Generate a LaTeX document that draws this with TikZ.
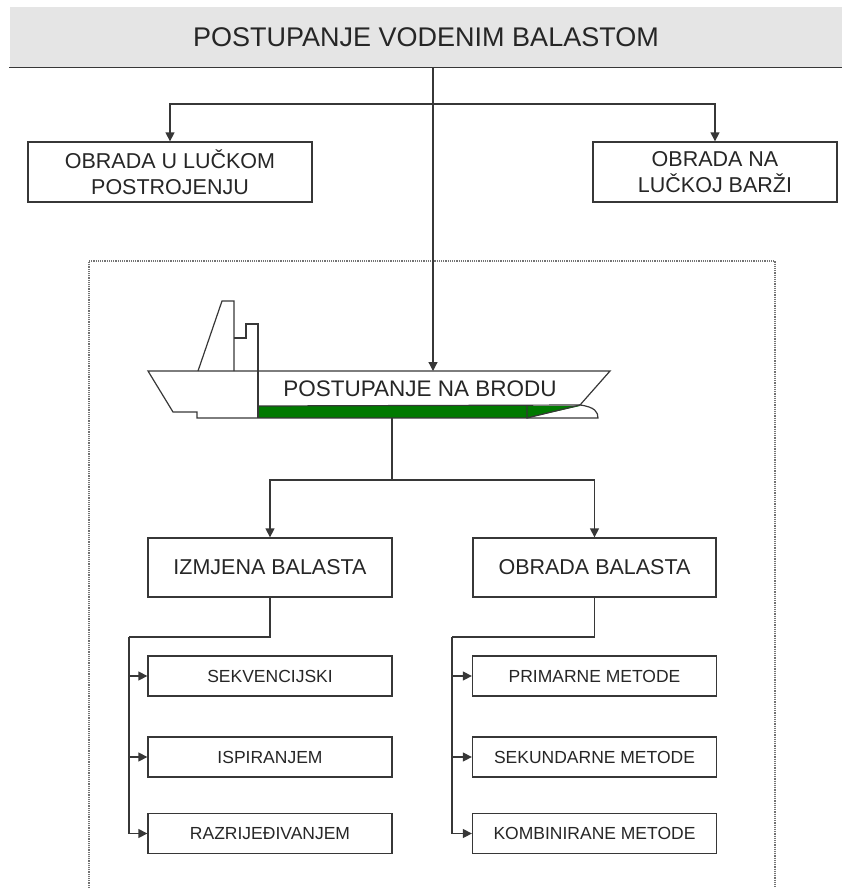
\documentclass[tikz,border=0pt]{standalone}
\usepackage{fontspec}
\setmainfont{Liberation Sans}
\usetikzlibrary{arrows.meta}
\definecolor{hull}{RGB}{0,122,0}
\definecolor{linegray}{RGB}{55,55,55}

\begin{document}
\begin{tikzpicture}[x=1pt,y=-1pt,line width=1.3pt,
    every node/.style={draw=linegray,line width=1.3pt,shape=rectangle,align=center,inner sep=0pt,text=black!85,font=\fontsize{21.5}{26}\selectfont},
    metoda/.style={minimum width=244pt,minimum height=40pt,font=\fontsize{17.5}{20}\selectfont},
    tok/.style={draw=linegray,-{Triangle[length=9pt,width=9pt]}}]
    \useasboundingbox (0,0) rectangle (842,888);

    % frame round the ship part
    \draw[black!55,line width=1.5pt,dash pattern=on 1.2pt off 1pt] (89,888) |- (775,261) -- (775,888);

    \node (head)[draw=none,fill=black!10,minimum width=832pt,minimum height=60pt,font=\fontsize{27}{30}\selectfont] at (426,37) {POSTUPANJE VODENIM BALASTOM};
    \draw[linegray,line width=1.6pt] (head.south west) -- (head.south east);

    \node (luka)[minimum width=284pt,minimum height=60pt] at (170,172) {OBRADA U LUČKOM \\ POSTROJENJU};
    \node (barza)[minimum width=244pt,minimum height=60pt] at (715,172) {OBRADA NA \\ LUČKOJ BARŽI};

    % ship
    \fill[hull] (258,406) rectangle (527,418);
    \fill[hull] (527,406) -- (580,406) -- (527,418) -- cycle;
    \draw[linegray,line width=1.2pt] (148,371) -- (610,371) -- (580,405) .. controls (595,407) and (598,412) .. (598,418) -- (197,418) -- (197,412) -- (173,412) -- cycle;
    \draw[linegray,line width=1.2pt] (198,371) -- (222,301) -- (234,301) -- (234,371);
    \draw[linegray,line width=1.2pt] (234,338) -- (246,338) -- (246,324) -- (258,324) -- (258,418);
    \draw[linegray,line width=1.2pt] (258,406) -- (580,405);
    \draw[linegray,line width=1.2pt] (527,406) -- (527,418) -- (580,405);
    \node (brod)[draw=none,font=\fontsize{22.5}{26}\selectfont] at (420,389) {POSTUPANJE NA BRODU};
    \coordinate (deck) at (433,371);
    \coordinate (keel) at (392,418);

    \node (izmjena)[minimum width=244pt,minimum height=59pt] at (270,567.5) {IZMJENA BALASTA};
    \node (obrada)[minimum width=243pt,minimum height=59pt] at (594.5,567.5) {OBRADA BALASTA};

    \node (sekv)[metoda] at (270,676) {SEKVENCIJSKI};
    \node (ispir)[metoda] at (270,757) {ISPIRANJEM};
    \node (razr)[metoda] at (270,833.5) {RAZRIJEĐIVANJEM};
    \node (primarne)[metoda] at (594.5,676) {PRIMARNE METODE};
    \node (sekundarne)[metoda] at (594.5,757) {SEKUNDARNE METODE};
    \node (kombinirane)[metoda] at (594.5,833.5) {KOMBINIRANE METODE};

    \coordinate (split1) at (433,104);
    \coordinate (split2) at (392,480);
    \coordinate (busL) at (129,637);
    \coordinate (busR) at (452,637);

    \draw [tok] (head.south -| deck) -- (deck);
    \draw [tok] (split1) -| (luka);
    \draw [tok] (split1) -| (barza);
    \draw [linegray] (keel) -- (split2);
    \draw [tok] (split2) -| (izmjena);
    \draw [tok] (split2) -| (obrada);
    \draw [linegray] (izmjena.south) |- (busL);
    \draw [linegray] (obrada.south) |- (busR);
    \draw [tok] (busL) |- (sekv);
    \draw [tok] (busL) |- (ispir);
    \draw [tok] (busL) |- (razr);
    \draw [tok] (busR) |- (primarne);
    \draw [tok] (busR) |- (sekundarne);
    \draw [tok] (busR) |- (kombinirane);
\end{tikzpicture}
\end{document}
